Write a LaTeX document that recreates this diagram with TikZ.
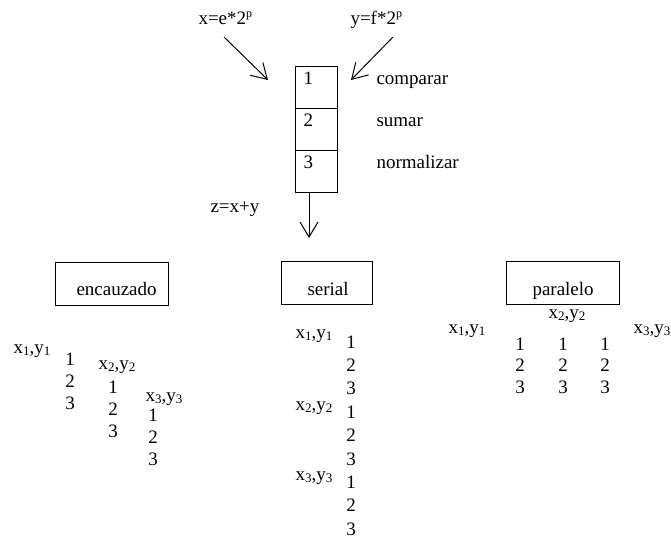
\documentclass[tikz,border=0pt]{standalone}
\usepackage{fontspec}
\setmainfont{Liberation Serif}
\usetikzlibrary{arrows.meta}
\newcommand\lsub[1]{\raisebox{-0.3ex}{\fontsize{13}{13}\selectfont #1}}
\newcommand\lsup[1]{\raisebox{0.8ex}{\fontsize{12}{12}\selectfont #1}}

\begin{document}
\begin{tikzpicture}[x=1pt,y=-1pt,>={Straight Barb[length=15pt,width=18pt]},line width=1pt,
cell/.style={draw,minimum width=42pt,minimum height=42pt,inner sep=0pt},
mode/.style={draw,minimum height=43pt,inner sep=0pt},
tag/.style={font=\fontsize{19}{19}\selectfont,anchor=base west,inner sep=0pt},
num/.style={font=\fontsize{19}{19}\selectfont,anchor=base,inner sep=0pt}]
\useasboundingbox (0,0) rectangle (671,539);
% etapas del sumador
\foreach \i/\op in {1/comparar,2/sumar,3/normalizar}{
  \node[cell] (cell\i) at (316,{45+42*\i}) {};
  \node[tag] (n\i) at (303,{42+42*\i}) {\i};
  \node[tag] (op\i) at (376,{42+42*\i}) {\op};
}
\node[tag] (xin) at (198,24) {x=e*2\lsup{p}};
\node[tag] (yin) at (350,24) {y=f*2\lsup{p}};
\coordinate (xa) at (224,37);
\coordinate (xb) at (268,80);
\coordinate (ya) at (393,37);
\coordinate (yb) at (351,80);
\draw[->] (xa)--(xb);
\draw[->] (ya)--(yb);
\coordinate (zb) at (309,238);
\draw[->] (cell3.south -| zb)--(zb);
\node[tag] (zout) at (210,212) {z=x+y};
% modos
\node[mode,minimum width=113pt] (enc) at (111.5,283.5) {};
\node[mode,minimum width=91pt] (ser) at (326.5,283) {};
\node[mode,minimum width=113pt] (par) at (562.5,283) {};
\node[tag] (enclbl) at (76,295) {encauzado};
\node[tag] (serlbl) at (307,295) {serial};
\node[tag] (parlbl) at (532,295) {paralelo};
% encauzado
\foreach \k/\x/\y/\cx/\cy in {1/13/353/70/365,2/98/369/113/393,3/145/401/153/421}{
  \node[tag] (e\k) at (\x,\y) {x\lsub{\k},y\lsub{\k}};
  \foreach \d in {1,2,3}
    \node[num] (e\k\d) at (\cx,{\cy+22*(\d-1)}) {\d};
}
% serial
\foreach \k/\y in {1/338,2/410,3/480}
  \node[tag] (sp\k) at (295,\y) {x\lsub{\k},y\lsub{\k}};
\foreach \d [count=\i from 0] in {1,2,3,1,2,3,1,2,3}
  \node[num] (sd\i) at (351,{348+23.4*\i}) {\d};
% paralelo
\foreach \k/\x/\y in {1/448/333,2/548/318,3/633/333}
  \node[tag] (pp\k) at (\x,\y) {x\lsub{\k},y\lsub{\k}};
\foreach \c/\cx in {1/520,2/563,3/605}
  \foreach \d in {1,2,3}
    \node[num] (p\c\d) at (\cx,{350+21.5*(\d-1)}) {\d};
\end{tikzpicture}
\end{document}
